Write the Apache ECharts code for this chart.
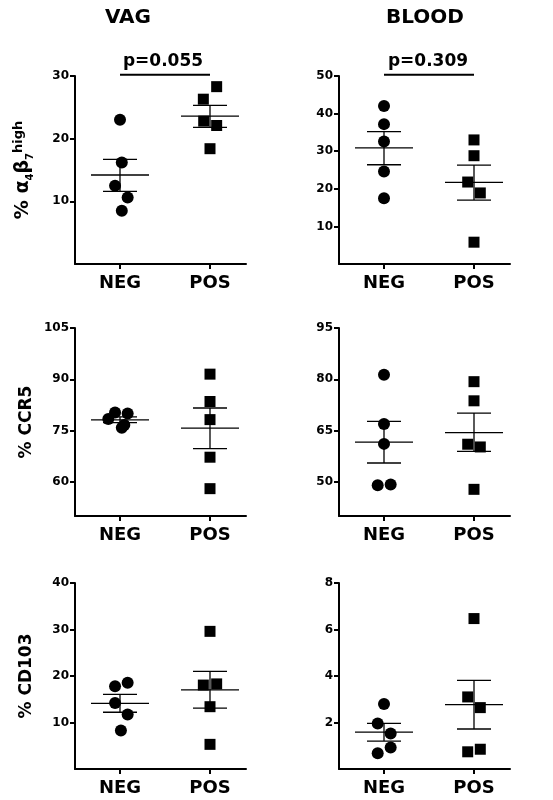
<!DOCTYPE html>
<html>
<head>
<meta charset="utf-8">
<script src="https://cdn.jsdelivr.net/npm/echarts@6/dist/echarts.min.js"></script>
<style>html,body{margin:0;padding:0;background:#fff;}#chart{width:553px;height:800px;}</style>
</head>
<body>
<div id="chart"></div>
<script>
	'use strict';

	var groups = ['NEG', 'POS'];
	var columns = ['VAG', 'BLOOD'];

	// [value, jitter] per point
	var vagA4b7Neg = [[23.0, 0], [16.2, 0.02], [12.5, -0.055], [10.6, 0.085], [8.5, 0.02]];
	var vagA4b7Pos = [[28.3, 0.074], [26.3, -0.074], [22.8, -0.07], [22.1, 0.074], [18.4, 0]];
	var bloodA4b7Neg = [[42.0, 0], [37.2, 0], [32.6, 0], [24.6, 0], [17.5, 0]];
	var bloodA4b7Pos = [[33.0, 0], [28.8, 0], [21.8, -0.07], [18.9, 0.07], [5.8, 0]];
	var vagCcr5Neg = [[80.3, -0.055], [80.0, 0.085], [78.4, -0.13], [76.6, 0.048], [75.8, 0.02]];
	var vagCcr5Pos = [[91.5, 0], [83.5, 0], [78.2, 0], [67.2, 0], [58.0, 0]];
	var bloodCcr5Neg = [[81.3, 0], [66.9, 0], [61.1, 0], [49.0, -0.07], [49.2, 0.074]];
	var bloodCcr5Pos = [[79.3, 0], [73.7, 0], [61.0, -0.07], [60.2, 0.07], [47.8, 0]];
	var vagCd103Neg = [[18.55, 0.085], [17.8, -0.055], [14.2, -0.055], [11.7, 0.085], [8.3, 0.01]];
	var vagCd103Pos = [[29.6, 0], [18.05, -0.074], [18.3, 0.074], [13.4, 0], [5.3, 0]];
	var bloodCd103Neg = [[2.8, 0], [1.96, -0.07], [1.53, 0.074], [0.92, 0.074], [0.68, -0.07]];
	var bloodCd103Pos = [[6.47, 0], [3.1, -0.07], [2.64, 0.07], [0.85, 0.07], [0.74, -0.07]];

	// mean, sem low, sem high  (NEG, POS)
	var vagA4b7Stats = [[14.2, 11.6, 16.7], [23.6, 21.8, 25.3]];
	var bloodA4b7Stats = [[30.9, 26.4, 35.2], [21.7, 17.0, 26.3]];
	var vagCcr5Stats = [[78.1, 77.3, 79.0], [75.7, 69.7, 81.6]];
	var bloodCcr5Stats = [[61.6, 55.5, 67.7], [64.4, 58.9, 70.1]];
	var vagCd103Stats = [[14.1, 12.2, 16.05], [17.0, 13.1, 21.0]];
	var bloodCd103Stats = [[1.59, 1.2, 1.96], [2.77, 1.72, 3.81]];

	var yTicks = [
		[10, 20, 30], [10, 20, 30, 40, 50],
		[60, 75, 90, 105], [50, 65, 80, 95],
		[10, 20, 30, 40], [2, 4, 6, 8]
	];
	var yRange = [[0, 30], [0, 50], [50, 105], [40, 95], [0, 40], [0, 8]];
	var pValues = ['p=0.055', 'p=0.309'];

	var panels = [
		[vagA4b7Neg, vagA4b7Pos, vagA4b7Stats],
		[bloodA4b7Neg, bloodA4b7Pos, bloodA4b7Stats],
		[vagCcr5Neg, vagCcr5Pos, vagCcr5Stats],
		[bloodCcr5Neg, bloodCcr5Pos, bloodCcr5Stats],
		[vagCd103Neg, vagCd103Pos, vagCd103Stats],
		[bloodCd103Neg, bloodCd103Pos, bloodCd103Stats]
	];

	var font = 'DejaVu Sans';
	var tops = [76, 328, 583];
	var bottoms = [264, 516, 769];
	var lefts = [75, 339];

	var grids = [], xAxes = [], yAxes = [], series = [];
	var yNames = [
		'{t|% α}{sub|4}{t|β}{sub|7}{sup|high}', '',
		'% CCR5', '', '% CD103', ''
	];

	panels.forEach(function(p, i) {
		var row = Math.floor(i / 2), col = i % 2;
		grids.push({ left: lefts[col], width: 171, top: tops[row], height: bottoms[row] - tops[row] });
		xAxes.push({
			gridIndex: i, type: 'value', min: 0.5, max: 2.4,
			axisLine: { lineStyle: { color: '#000', width: 2 } },
			axisTick: { customValues: [1, 2], length: 5, lineStyle: { color: '#000', width: 2 } },
			axisLabel: {
				customValues: [1, 2], margin: 10,
				formatter: function(v) { return groups[Math.round(v) - 1]; },
				fontFamily: font, fontWeight: 'bold', fontSize: 18, color: '#000'
			},
			splitLine: { show: false }
		});
		yAxes.push({
			gridIndex: i, type: 'value', min: yRange[i][0], max: yRange[i][1],
			name: yNames[i], nameLocation: 'middle', nameRotate: 90, nameGap: 40,
			nameTextStyle: {
				fontFamily: font, fontWeight: 'bold', fontSize: 17, color: '#000',
				rich: {
					t: { fontFamily: font, fontWeight: 'bold', fontSize: 19, color: '#000' },
					sub: { fontSize: 10, fontWeight: 'bold', verticalAlign: 'bottom', padding: [8, 0, 0, 0], color: '#000' },
					sup: { fontSize: 13, fontWeight: 'bold', verticalAlign: 'top', padding: [0, 0, 10, 0], color: '#000' }
				}
			},
			axisLine: { show: true, lineStyle: { color: '#000', width: 2 } },
			axisTick: { show: true, customValues: yTicks[i], length: 5, lineStyle: { color: '#000', width: 2 } },
			axisLabel: { customValues: yTicks[i], fontFamily: font, fontWeight: 'bold', fontSize: 12, color: '#000', margin: 6 },
			splitLine: { show: false }
		});

		[p[0], p[1]].forEach(function(pts, g) {
			series.push({
				type: 'scatter', xAxisIndex: i, yAxisIndex: i,
				symbol: g === 0 ? 'circle' : 'rect', symbolSize: g === 0 ? 12 : 11,
				itemStyle: { color: '#000', opacity: 1 },
				data: pts.map(function(d) { return [g + 1 + d[1], d[0]]; }),
				z: 3
			});
		});

		series.push({
			type: 'custom', xAxisIndex: i, yAxisIndex: i, z: 4,
			data: p[2].map(function(s, g) { return [g + 1, s[0], s[1], s[2]]; }),
			renderItem: function(params, api) {
				var x = api.value(0);
				var m = api.coord([x, api.value(1)]);
				var lo = api.coord([x, api.value(2)]);
				var hi = api.coord([x, api.value(3)]);
				var mw = 29, cw = 17;
				var st = { stroke: '#000', lineWidth: 1.3 };
				return {
					type: 'group', children: [
						{ type: 'line', shape: { x1: m[0] - mw, y1: m[1], x2: m[0] + mw, y2: m[1] }, style: st },
						{ type: 'line', shape: { x1: lo[0], y1: lo[1], x2: hi[0], y2: hi[1] }, style: st },
						{ type: 'line', shape: { x1: lo[0] - cw, y1: lo[1], x2: lo[0] + cw, y2: lo[1] }, style: st },
						{ type: 'line', shape: { x1: hi[0] - cw, y1: hi[1], x2: hi[0] + cw, y2: hi[1] }, style: st }
					]
				};
			}
		});

		if (row === 0) {
			var top = yRange[i][1] * 1.006;
			series.push({
				type: 'line', xAxisIndex: i, yAxisIndex: i, clip: false, symbol: 'none',
				lineStyle: { color: '#000', width: 2 },
				data: [[1, top], [2, top]]
			});
		}
	});

	var graphics = [];
	columns.forEach(function(c, k) {
		graphics.push({
			type: 'text', x: [128, 425][k], y: 8,
			style: { text: c, fontFamily: font, fontWeight: 'bold', fontSize: 20, fill: '#000', align: 'center' }
		});
		graphics.push({
			type: 'text', x: [163, 428][k], y: 53,
			style: { text: pValues[k], fontFamily: font, fontWeight: 'bold', fontSize: 17, fill: '#000', align: 'center' }
		});
	});

	var chart = echarts.init(document.getElementById('chart'));
	chart.setOption({
		backgroundColor: '#fff',
		animation: false,
		grid: grids,
		xAxis: xAxes,
		yAxis: yAxes,
		series: series,
		graphic: graphics
	});
</script>
</body>
</html>
